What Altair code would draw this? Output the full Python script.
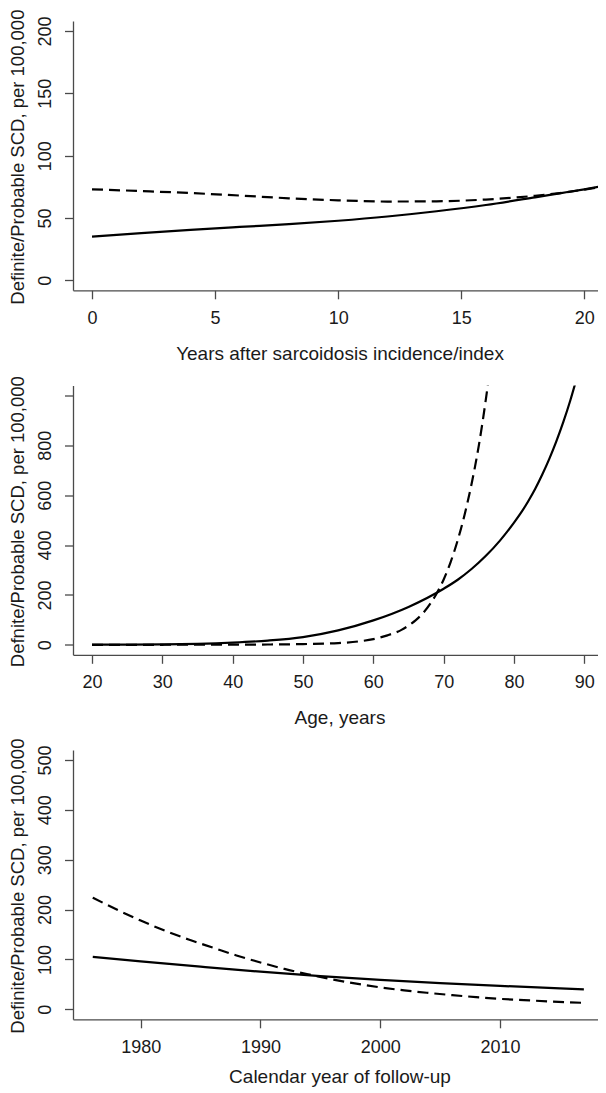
import altair as alt
import pandas as pd

# ---------------- data ----------------
# Panel 1: years after sarcoidosis incidence/index
p1_x = [0, 2, 4, 6, 8, 10, 12, 14, 16, 18, 19, 20, 21]
p1_solid = [35.0, 37.9, 40.5, 42.8, 45.0, 47.8, 51.2, 55.4, 60.4, 66.6, 69.8, 73.0, 76.4]
p1_dashed = [73.0, 71.6, 70.0, 68.0, 65.8, 64.2, 63.2, 63.4, 64.8, 67.8, 70.0, 72.8, 76.0]

# Panel 2: age, years
p2_x_solid = [20, 25, 30, 35, 40, 45, 50, 55, 60, 65, 70, 72, 74, 76, 78, 80,
              81, 82, 83, 84, 85, 86, 87, 88, 89]
p2_solid = [0.5, 1, 2, 4.2, 9, 17, 31, 58, 98, 152, 225, 261, 305, 357, 418, 490,
            530, 575, 625, 682, 745, 815, 893, 980, 1078]
p2_x_dashed = [20, 30, 40, 45, 50, 55, 58, 60, 62, 64, 65, 66, 67, 68, 69, 70, 71, 72, 73, 74, 75, 76, 77]
p2_dashed = [0.1, 0.2, 0.6, 1.3, 3, 7, 14, 23, 38, 60, 77, 98, 125, 161, 206, 262, 333, 420, 525, 650, 800, 985, 1200]

# Panel 3: calendar year of follow-up
p3_x_solid = [1976, 1980, 1985, 1990, 1995, 2000, 2005, 2010, 2015, 2017]
p3_solid = [105, 96, 85.5, 75.5, 66.5, 59, 52.5, 47, 42, 40]
p3_x_dashed = [1976, 1978, 1980, 1982, 1984, 1986, 1988, 1990, 1992, 1994, 1996,
               1998, 2000, 2002, 2004, 2006, 2008, 2010, 2012, 2014, 2017]
p3_dashed = [224, 200, 178, 158, 140, 124, 108, 94, 81, 70, 60,
             51.5, 44, 38, 33, 28.5, 24.5, 21, 18.5, 16, 13]

p1_xticks = [0, 5, 10, 15, 20]
p1_yticks = [0, 50, 100, 150, 200]
p2_xticks = [20, 30, 40, 50, 60, 70, 80, 90]
p2_yticks = [0, 200, 400, 600, 800, 1000]
p3_xticks = [1980, 1990, 2000, 2010]
p3_yticks = [0, 100, 200, 300, 400, 500]

# ---------------- styling ----------------
FONT = "Liberation Sans"
AX = "#4a4a4a"
TXT = "#1a1a1a"
W = 525
H = 269.3


def panel(xs, ys, xd, yd, xdom, ydom, xticks, yticks, xtitle, ytitle,
          ylabel_expr=None, pin=False, xtitle_y=63, xtitle_x=266.5):
    sdf = pd.DataFrame({"x": xs, "y": ys})
    ddf = pd.DataFrame({"x": xd, "y": yd})
    xaxis = alt.Axis(
        values=xticks, format="d", title=xtitle, grid=False,
        domainColor=AX, domainWidth=1.3, tickColor=AX, tickWidth=1.3, tickSize=8.5,
        labelFont=FONT, labelFontSize=18, labelColor=TXT, labelPadding=19.5,
        labelBaseline="middle", labelFlush=False, labelOverlap=False,
        titleFont=FONT, titleFontSize=19, titleFontWeight="normal", titleColor=TXT,
        titleY=xtitle_y, titleX=xtitle_x, titleBaseline="middle", titleAlign="center",
    )
    yargs = dict(
        values=yticks, format="d", title=ytitle, grid=False,
        domainColor=AX, domainWidth=1.3, tickColor=AX, tickWidth=1.3, tickSize=8.5,
        labelFont=FONT, labelFontSize=18, labelColor=TXT, labelPadding=19.5,
        labelAngle=270, labelAlign="center", labelBaseline="middle",
        labelFlush=False, labelOverlap=False,
        titleFont=FONT, titleFontSize=18.5, titleFontWeight="normal", titleColor=TXT,
        titleAngle=270, titleX=-55.7, titleY=H / 2 + 1, titleBaseline="middle", titleAlign="center",
    )
    if ylabel_expr:
        yargs["labelExpr"] = ylabel_expr
    yaxis = alt.Axis(**yargs)
    xs_ = alt.Scale(domain=xdom, nice=False, zero=False)
    ys_ = alt.Scale(domain=ydom, nice=False, zero=False)

    solid = alt.Chart(sdf).mark_line(clip=True, color="black", strokeWidth=2.2,
                                     interpolate="monotone").encode(
        x=alt.X("x:Q", scale=xs_, axis=xaxis),
        y=alt.Y("y:Q", scale=ys_, axis=yaxis),
    )
    dashed = alt.Chart(ddf).mark_line(clip=True, color="black", strokeWidth=2.2,
                                      strokeDash=[11, 6], interpolate="monotone").encode(
        x=alt.X("x:Q", scale=xs_),
        y=alt.Y("y:Q", scale=ys_),
    )
    # invisible anchor fixing the left edge (and the top edge for the first panel)
    anchor = alt.Chart(pd.DataFrame({"a": [0]})).mark_rule(opacity=0, strokeWidth=1).encode(
        x=alt.value(-65), x2=alt.value(-64),
        y=alt.value(-12.7 if pin else 10), y2=alt.value(-12 if pin else 11),
    )
    return alt.layer(solid, dashed, anchor).properties(width=W, height=H)


c1 = panel(p1_x, p1_solid, p1_x, p1_dashed, [-0.772, 20.556], [-8, 208],
           p1_xticks, p1_yticks, "Years after sarcoidosis incidence/index",
           "Definite/Probable SCD, per 100,000", pin=True)
c2 = panel(p2_x_solid, p2_solid, p2_x_dashed, p2_dashed, [17.30, 91.94], [-40, 1040],
           p2_xticks, p2_yticks, "Age, years",
           "Defnite/Probable SCD, per 100,000",
           ylabel_expr="datum.value == 1000 ? '' : datum.label")
c3 = panel(p3_x_solid, p3_solid, p3_x_dashed, p3_dashed, [1974.35, 2018.18], [-20, 520],
           p3_xticks, p3_yticks, "Calendar year of follow-up",
           "Definite/Probable SCD, per 100,000", xtitle_y=57)

chart = alt.vconcat(c1, c2, c3, spacing=94.5, bounds="flush").properties(
    padding=0, background="white"
).configure_view(strokeWidth=0)

chart.save("out.html", embed_options={"renderer": "svg", "actions": False})
